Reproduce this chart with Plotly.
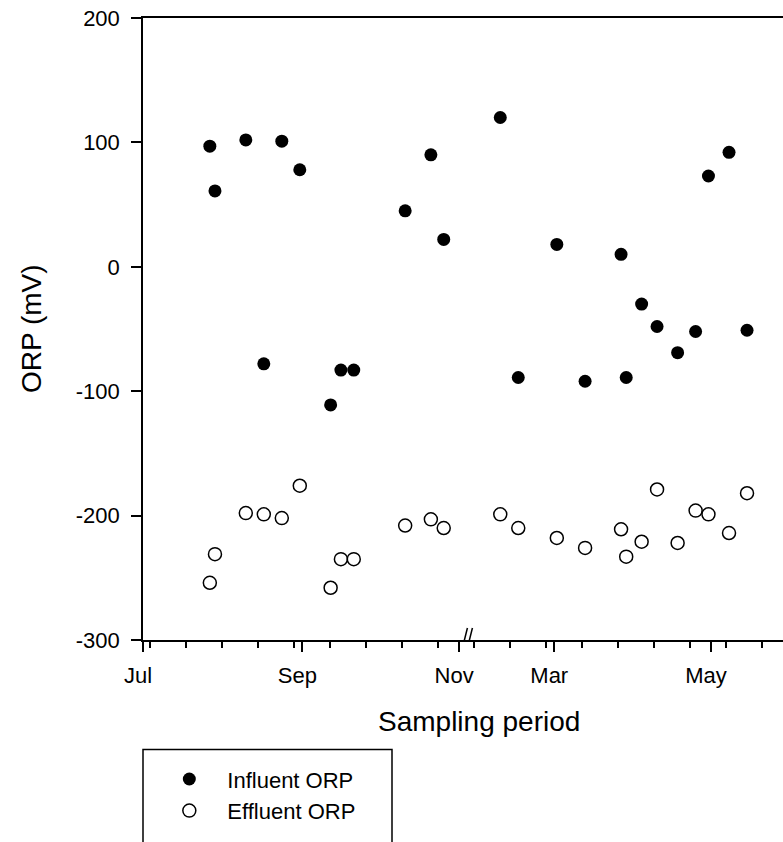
import plotly.graph_objects as go

# ---- data ----
sample_dates = [
    "2003-07-27", "2003-07-29", "2003-08-10", "2003-08-17", "2003-08-24",
    "2003-08-31", "2003-09-12", "2003-09-16", "2003-09-21", "2003-10-11",
    "2003-10-21", "2003-10-26", "2004-02-09", "2004-02-16", "2004-03-02",
    "2004-03-13", "2004-03-27", "2004-03-29", "2004-04-04", "2004-04-10",
    "2004-04-18", "2004-04-25", "2004-04-30", "2004-05-08", "2004-05-15",
]
influent_orp = [
    97, 61, 102, -78, 101, 78, -111, -83, -83, 45,
    90, 22, 120, -89, 18, -92, 10, -89, -30, -48,
    -69, -52, 73, 92, -51,
]
effluent_orp = [
    -254, -231, -198, -199, -202, -176, -258, -235, -235, -208,
    -203, -210, -199, -210, -218, -226, -211, -233, -221, -179,
    -222, -196, -199, -214, -182,
]
tick_dates = ["2003-07-01", "2003-09-01", "2003-11-01", "2004-03-01", "2004-05-01"]
tick_labels = ["Jul", "Sep", "Nov", "Mar", "May"]
y_ticks = [-300, -200, -100, 0, 100, 200]
y_tick_labels = ["-300", "-200", "-100", "0", "100", "200"]
series_names = ["Influent ORP", "Effluent ORP"]

FONT = "Arial, Liberation Sans, sans-serif"
BREAK = ["2003-11-05", "2004-01-28"]

fig = go.Figure()
fig.add_trace(go.Scatter(
    x=sample_dates, y=influent_orp, mode="markers", name=series_names[0],
    marker=dict(symbol="circle", size=13, color="black"),
))
fig.add_trace(go.Scatter(
    x=sample_dates, y=effluent_orp, mode="markers", name=series_names[1],
    marker=dict(symbol="circle-open", size=13, color="black", line=dict(width=1.5)),
))

fig.update_layout(
    width=783, height=842,
    margin=dict(l=143, r=0, t=18, b=202),
    paper_bgcolor="white", plot_bgcolor="white",
    font=dict(family=FONT, color="black"),
    showlegend=True,
    legend=dict(
        x=0.013, y=-0.19, xanchor="left", yanchor="top",
        font=dict(size=22, family=FONT, color="black"),
        bgcolor="rgba(0,0,0,0)", borderwidth=0, itemwidth=66,
    ),
    xaxis=dict(
        type="date",
        range=["2003-07-01", "2004-05-29"],
        rangebreaks=[dict(bounds=BREAK)],
        tickmode="array", tickvals=tick_dates, ticktext=tick_labels,
        ticks="outside", ticklen=10, tickwidth=1.5, tickcolor="black",
        minor=dict(ticks="outside", ticklen=6, tickwidth=1.5, tickcolor="black",
                   tickmode="linear", tick0="2003-07-03 16:00", dtick=14 * 86400000),
        showline=True, linewidth=1.5, linecolor="black", mirror=True,
        showgrid=False, zeroline=False,
        tickfont=dict(size=22, family=FONT, color="black"),
        ticklabelshift=-5, ticklabelstandoff=5,
    ),
    yaxis=dict(
        range=[-300, 200], tickmode="array", tickvals=y_ticks, ticktext=y_tick_labels,
        ticks="outside", ticklen=10, tickwidth=1.5, tickcolor="black",
        showline=True, linewidth=1.5, linecolor="black",
        showgrid=False, zeroline=False,
        tickfont=dict(size=22, family=FONT, color="black"),
        ticklabelstandoff=7,
    ),
)

# axis titles
fig.add_annotation(text="Sampling period", xref="paper", yref="paper",
                   x=(478.5 - 143) / 640, y=(639.5 - 721) / 622,
                   showarrow=False, font=dict(size=28, family=FONT, color="black"),
                   xanchor="center", yanchor="middle")
fig.add_annotation(text="ORP (mV)", xref="paper", yref="paper",
                   x=(31 - 143) / 640, y=0.5, textangle=-90,
                   showarrow=False, font=dict(size=28, family=FONT, color="black"),
                   xanchor="center", yanchor="middle")

# axis break marks "//"
for dx in (-8, -3):
    fig.add_shape(type="line", xref="x", yref="y",
                  xsizemode="pixel", xanchor=BREAK[0], x0=dx, x1=dx + 6,
                  ysizemode="pixel", yanchor=-300, y0=-12, y1=12,
                  line=dict(color="black", width=1.5))

# legend box (extends past the bottom edge)
fig.add_shape(type="rect", xref="paper", yref="paper",
              x0=0, x1=(392 - 143) / 640, y0=(639.5 - 749) / 622, y1=-0.45,
              line=dict(color="black", width=1.5), fillcolor="rgba(0,0,0,0)")

fig.write_html("out.html")
